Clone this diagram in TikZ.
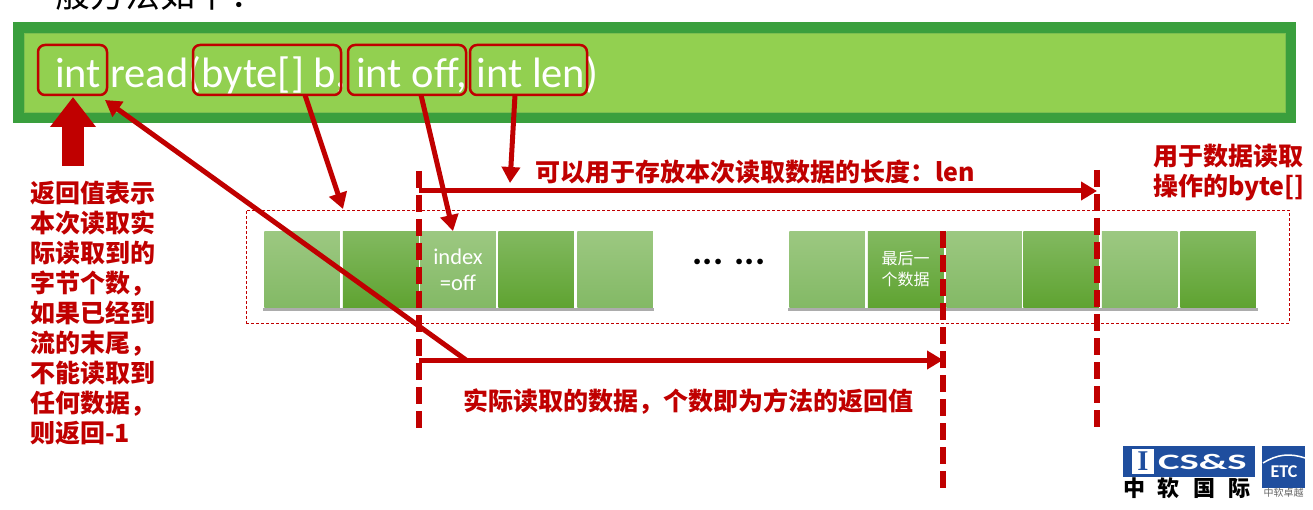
\documentclass[tikz,border=0pt]{standalone}
\usepackage{fontspec}
\setmainfont{Carlito}
\newfontfamily\cjk{Noto Sans CJK SC}
\newfontfamily\logoserif{Liberation Serif}
\usetikzlibrary{arrows.meta}
\usetikzlibrary{positioning}
\definecolor{mred}{HTML}{C00000}
\definecolor{mblue}{HTML}{1F4E9E}
\begin{document}
\begin{tikzpicture}[x=1pt,y=-1pt,every node/.style={inner sep=0pt,outer sep=0pt},
	outerbar/.style={fill={rgb,255:red,58;green,159;blue,61},minimum width=1283pt,minimum height=101pt},
	innerbar/.style={fill={rgb,255:red,146;green,208;blue,80},draw={rgb,255:red,124;green,190;blue,80},minimum width=1261pt,minimum height=79pt},
	codebox/.style={draw=mred,line width=2.5pt,rounded corners=7pt,minimum height=50pt},
	codetext/.style={text=white,font=\fontsize{42.5}{48}\selectfont,anchor=base west},
	cella/.style={minimum width=75.5pt,minimum height=76pt,text=white,align=center,top color={rgb,255:red,156;green,200;blue,129},middle color={rgb,255:red,143;green,196;blue,110},bottom color={rgb,255:red,131;green,185;blue,101}},
	cellb/.style={minimum width=75.5pt,minimum height=76pt,text=white,align=center,top color={rgb,255:red,130;green,185;blue,96},middle color={rgb,255:red,111;green,179;blue,63},bottom color={rgb,255:red,95;green,163;blue,49}},
	rowbase/.style={fill=white,minimum height=77pt},
	rowshadow/.style={fill=gray!65,minimum height=77pt},
	note/.style={text=mred,font=\cjk\bfseries\fontsize{25}{30}\selectfont,align=left},
	redarrow/.style={draw=mred,line width=5pt,-{Triangle[length=16pt,width=18pt]}},
	reddash/.style={draw=mred,line width=5.5pt,dash pattern=on 17pt off 7pt}]
	\clip (0,0) rectangle (1313,510);
	\fill[white] (0,0) rectangle (1313,510);
	\node[anchor=west,font=\cjk\fontsize{35}{40}\selectfont] (heading) at (20,-6) {一般方法如下：};
	\node[outerbar] (outer) at (654.5,72.5) {};
	\node[innerbar] (inner) at (654.5,72.5) {};
	\node[codetext] (code) at (55,88) {int read(byte[] b, int off, int len)};
	\node[codebox,minimum width=69pt] (intbox) at (72.5,70) {};
	\node[codebox,minimum width=148pt] (bytebox) at (267,70) {};
	\node[codebox,minimum width=118pt] (offbox) at (407,70) {};
	\node[codebox,minimum width=117pt] (lenbox) at (528.5,70) {};
	\node[draw=mred,densely dashed,line width=0.7pt,minimum width=1043pt,minimum height=113pt] (buffer) at (767.5,266.5) {};
	\node[rowshadow,minimum width=391pt] (rowashadow) at (458.5,272) {};
	\node[rowshadow,minimum width=470pt] (rowbshadow) at (1023,272) {};
	\node[rowbase,minimum width=391pt] (rowa) at (458.5,269.5) {};
	\node[rowbase,minimum width=470pt] (rowb) at (1023,269.5) {};
	\foreach \name/\x/\kind in {a/302/cella,b/380.5/cellb,d/536/cellb,e/615/cella,f/827/cella,h/984/cella,i/1061/cellb,j/1139.5/cella,k/1218/cellb}
	{
		\node[\kind] (cell\name) at (\x,269.5) {};
	}
	\node[cella,font=\fontsize{22.5}{26}\selectfont] (cellc) at (458,269.5) {index\\=off};
	\node[cellb,font=\cjk\fontsize{16}{21}\selectfont] (cellg) at (905.5,269.5) {最后一\\个数据};
	\node[font=\bfseries\fontsize{38}{40}\selectfont] (dots) at (729,262) {... ...};
	\coordinate (lefttop) at (419,171);
	\coordinate (leftbottom) at (419,430);
	\coordinate (midtop) at (943,231);
	\coordinate (midbottom) at (943,490);
	\coordinate (righttop) at (1097,170);
	\coordinate (rightbottom) at (1097,431);
	\draw[reddash] (lefttop) -- (leftbottom);
	\draw[reddash] (midtop) -- (midbottom);
	\draw[reddash] (righttop) -- (rightbottom);
	\coordinate (lenstart) at (419,191);
	\coordinate (lenend) at (1097,191);
	\coordinate (readstart) at (419,360);
	\coordinate (readend) at (943,360);
	\coordinate (diagstart) at (466,360);
	\coordinate (diagend) at (105,100);
	\coordinate (bytefrom) at (305,95);
	\coordinate (byteto) at (343,209);
	\coordinate (offfrom) at (421,95);
	\coordinate (offto) at (453,231);
	\coordinate (lenfrom) at (515,95);
	\coordinate (lento) at (510,183);
	\draw[redarrow] (lenstart) -- (lenend);
	\draw[redarrow] (readstart) -- (readend);
	\draw[redarrow] (diagstart) -- (diagend);
	\draw[redarrow] (bytefrom) -- (byteto);
	\draw[redarrow] (offfrom) -- (offto);
	\draw[redarrow] (lenfrom) -- (lento);
	\node[note,anchor=north west] (retnote) at (30,181) {返回值表示\\本次读取实\\际读取到的\\字节个数，\\如果已经到\\流的末尾，\\不能读取到\\任何数据，\\则返回-1};
	\coordinate (blockstart) at (73,166);
	\coordinate (blockend) at (73,97);
	\draw[draw=mred,line width=22pt,-{Triangle[length=30pt,width=44pt]}] (blockstart) -- (blockend);
	\node[note,anchor=west] (lennote) at (535,172) {可以用于存放本次读取数据的长度：len};
	\node[note,anchor=west] (bufnote) at (1153,172.5) {用于数据读取\\操作的byte[]};
	\node[note,anchor=west] (readnote) at (463,402) {实际读取的数据，个数即为方法的返回值};
	\node[fill=mblue,minimum width=132pt,minimum height=31pt] (logoa) at (1189,461.5) {};
	\node[fill=white,minimum width=22pt,minimum height=25pt] (logoi) at (1143,461.5) {};
	\node[text=mblue,font=\logoserif\bfseries\fontsize{22}{22}\selectfont] at (logoi) {\scalebox{1.3}{I}};
	\node[text=white,font=\bfseries\fontsize{22}{22}\selectfont,right=4pt of logoi] (logocs) {\scalebox{1.85}[1]{CS\&S}};
	\node[font=\cjk\bfseries\fontsize{22}{22}\selectfont,anchor=north west] (logocn) at (1123,478) {中\hspace{13pt}软\hspace{13pt}国\hspace{13pt}际};
	\node[fill=mblue,minimum width=43pt,minimum height=42pt] (logob) at (1283.5,467) {};
	\node[text=white,font=\bfseries\fontsize{18}{18}\selectfont] (logoetc) at (1284,472) {ETC};
	\coordinate (arcstart) at (1263,463);
	\coordinate (arcend) at (1305,458);
	\draw[white,line width=1.5pt] (arcstart) to[bend left=25] (arcend);
	\node[text=gray!80!black,font=\cjk\fontsize{10}{10}\selectfont,below=0.5pt of logob] (logosub) {中软卓越};
\end{tikzpicture}
\end{document}
